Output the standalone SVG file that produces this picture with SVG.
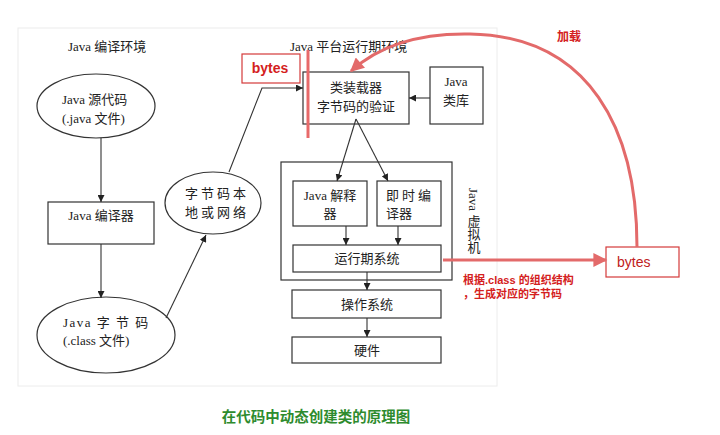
<svg xmlns="http://www.w3.org/2000/svg" width="720" height="435" viewBox="0 0 720 435">
<defs>
<style>
.t{font-family:"Liberation Serif","Noto Sans CJK SC",serif;font-size:13px;fill:#222}
.c{text-anchor:middle}
.box{fill:#fff;stroke:#333;stroke-width:1.2}
.ln{fill:none;stroke:#333;stroke-width:1.1}
.red{fill:none;stroke:#e36a6a;stroke-width:3}
.rt{font-family:"Liberation Sans","Noto Sans CJK SC",sans-serif;font-weight:bold;fill:#d42020}
</style>
<marker id="ah" viewBox="0 0 10 10" refX="10" refY="5" markerWidth="7" markerHeight="7" markerUnits="userSpaceOnUse" orient="auto"><path d="M0,0 L10,5 L0,10 z" fill="#222"/></marker>
<marker id="rah" viewBox="0 0 10 10" refX="9" refY="5" markerWidth="16" markerHeight="14" markerUnits="userSpaceOnUse" orient="auto"><path d="M0,0 L10,5 L0,10 z" fill="#e36a6a"/></marker>
</defs>
<rect width="720" height="435" fill="#fff"/>
<rect x="18" y="28" width="479" height="358" fill="none" stroke="#ececec" stroke-width="1"/>

<text class="t" x="68" y="51">Java 编译环境</text>
<text class="t" x="290" y="51">Java 平台运行期环境</text>

<g id="src">
<ellipse class="box" cx="96" cy="106" rx="59" ry="32"/>
<text class="t" x="62" y="104">Java 源代码</text>
<text class="t" x="62" y="123">(.java 文件)</text>
</g>
<g id="javac">
<rect class="box" x="48" y="202" width="106" height="42"/>
<text class="t c" x="101" y="220">Java 编译器</text>
</g>
<g id="bytecode">
<ellipse class="box" cx="106" cy="335" rx="69" ry="38"/>
<text class="t" x="63" y="327" letter-spacing="1.5">Java  字 节 码</text>
<text class="t" x="63" y="345">(.class 文件)</text>
</g>
<g id="localnet">
<ellipse class="box" cx="213" cy="203" rx="48" ry="31"/>
<text class="t c" x="217" y="198" letter-spacing="3">字节码本</text>
<text class="t c" x="217" y="217" letter-spacing="3">地或网络</text>
</g>
<g id="bytes1">
<rect x="242" y="54" width="58" height="29" fill="#fff" stroke="#d43a3a" stroke-width="1.2"/>
<text class="rt" x="270" y="73" font-size="14" text-anchor="middle">bytes</text>
</g>
<g id="loader">
<rect class="box" x="303" y="72" width="106" height="52"/>
<text class="t c" x="356" y="92">类装载器</text>
<text class="t c" x="356" y="111">字节码的验证</text>
</g>
<g id="lib">
<rect class="box" x="430" y="67" width="53" height="57"/>
<text class="t c" x="456" y="86">Java</text>
<text class="t c" x="456" y="105">类库</text>
</g>
<g id="jvm">
<rect class="box" x="281" y="162" width="171" height="118"/>
<text class="t" x="473" y="188" writing-mode="vertical-rl">Java 虚拟机</text>
</g>
<g id="interp">
<rect class="box" x="293" y="181" width="74" height="45"/>
<text class="t c" x="330" y="200">Java 解释</text>
<text class="t c" x="330" y="218">器</text>
</g>
<g id="jit">
<rect class="box" x="377" y="181" width="64" height="45"/>
<text class="t" x="386" y="200" letter-spacing="3">即时编</text>
<text class="t" x="386" y="218">译器</text>
</g>
<g id="runtime">
<rect class="box" x="293" y="245" width="148" height="27"/>
<text class="t c" x="367" y="263">运行期系统</text>
</g>
<g id="os">
<rect class="box" x="292" y="290" width="149" height="28"/>
<text class="t c" x="367" y="309">操作系统</text>
</g>
<g id="hw">
<rect class="box" x="292" y="337" width="149" height="26"/>
<text class="t c" x="367" y="355">硬件</text>
</g>
<g id="bytes2">
<rect x="606" y="247" width="73" height="30" fill="#fff" stroke="#d43a3a" stroke-width="1.2"/>
<text x="617" y="267" font-family="Liberation Sans,sans-serif" font-size="14" fill="#c02020">bytes</text>
</g>
<text class="rt" x="569" y="41" font-size="12" text-anchor="middle">加载</text>
<text class="rt" x="463" y="284" font-size="11">根据.class 的组织结构</text>
<text class="rt" x="463" y="298" font-size="11">，生成对应的字节码</text>
<text x="316" y="422" text-anchor="middle" font-family="Liberation Sans,Noto Sans CJK SC,sans-serif" font-size="14.5" font-weight="bold" fill="#2e8b2e">在代码中动态创建类的原理图</text>

<g id="connectors">
<line class="ln" x1="101" y1="138" x2="101" y2="202" marker-end="url(#ah)"/>
<line class="ln" x1="101" y1="244" x2="101" y2="298" marker-end="url(#ah)"/>
<line class="ln" x1="166" y1="318" x2="206" y2="235" marker-end="url(#ah)"/>
<polyline class="ln" points="229,172 262,88 303,88" marker-end="url(#ah)"/>
<line class="ln" x1="430" y1="98" x2="409" y2="98" marker-end="url(#ah)"/>
<line class="ln" x1="356" y1="119" x2="337" y2="181" marker-end="url(#ah)"/>
<line class="ln" x1="356" y1="119" x2="388" y2="181" marker-end="url(#ah)"/>
<line class="ln" x1="346" y1="226" x2="346" y2="245" marker-end="url(#ah)"/>
<line class="ln" x1="398" y1="226" x2="398" y2="245" marker-end="url(#ah)"/>
<line class="ln" x1="367" y1="272" x2="367" y2="290" marker-end="url(#ah)"/>
<line class="ln" x1="367" y1="318" x2="367" y2="337" marker-end="url(#ah)"/>
<line class="red" x1="443" y1="260" x2="606" y2="260" marker-end="url(#rah)"/>
<path class="red" d="M637,247 C637,130 590,36 470,34 C420,33 380,45 351,71" marker-end="url(#rah)"/>
<line x1="308" y1="50" x2="308" y2="138" stroke="#e86a6a" stroke-width="3"/>
</g>
</svg>
